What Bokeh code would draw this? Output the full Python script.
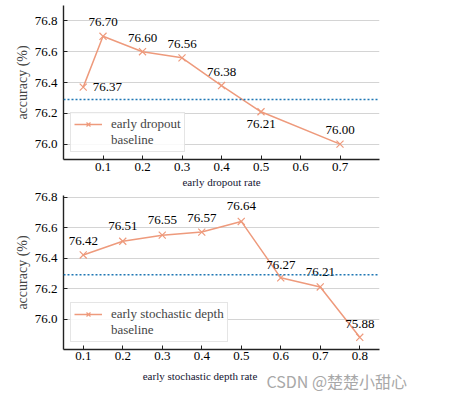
from bokeh.plotting import figure
from bokeh.models import (Range1d, FixedTicker, PrintfTickFormatter, Span,
                          Legend, LegendItem, ColumnDataSource, Title)
from bokeh.layouts import column, row
from bokeh.embed import file_html
from bokeh.resources import INLINE
from bokeh.core.properties import value

# ---------------- data ----------------
dropout_rate = [0.05, 0.1, 0.2, 0.3, 0.4, 0.5, 0.7]
dropout_acc = [76.37, 76.70, 76.60, 76.56, 76.38, 76.21, 76.00]

depth_rate = [0.1, 0.2, 0.3, 0.4, 0.5, 0.6, 0.7, 0.8]
depth_acc = [76.42, 76.51, 76.55, 76.57, 76.64, 76.27, 76.21, 75.88]

baseline_acc = 76.29

top_xticks = [0.1, 0.2, 0.3, 0.4, 0.5, 0.6, 0.7]
bottom_xticks = [0.1, 0.2, 0.3, 0.4, 0.5, 0.6, 0.7, 0.8]
yticks = [76.0, 76.2, 76.4, 76.6, 76.8]

top_series_name = "early dropout"
bottom_series_name = "early stochastic depth"
top_xlabel = "early dropout rate"
bottom_xlabel = "early stochastic depth rate"
ylabel = "accuracy (%)"
watermark = "CSDN @楚楚小甜心"

# label offsets (style, screen px)
top_dx = [24, 0, 0, 0, 0, 0, 0]
top_dy = [0, -14, -14, -14, -14, 12, -14]
bottom_dx = [0, 0, 0, 0, 0, 0, 0, 0]
bottom_dy = [-14, -15, -15, -14, -15, -13, -15, -13]

FONT = "Liberation Serif"
LINE_C = "#ee9a7c"
BASE_C = "#1f77b4"
XLAB_C = "#141432"
W = 450


def make(xs, ys, dx, dy, xticks, xr, yr, series, height, top_border, bottom_border,
         tick_standoff):
    p = figure(width=W, height=height, x_range=Range1d(*xr), y_range=Range1d(*yr),
               output_backend="svg", toolbar_location=None,
               min_border_left=63, min_border_right=W - 379,
               min_border_top=top_border, min_border_bottom=bottom_border)
    p.outline_line_color = None
    p.background_fill_color = "white"
    p.border_fill_color = "white"
    p.xgrid.visible = False
    p.ygrid.grid_line_color = "#d4d4d4"
    p.ygrid.grid_line_width = 1.2

    p.xaxis.ticker = FixedTicker(ticks=xticks)
    p.yaxis.ticker = FixedTicker(ticks=yticks)
    p.xaxis.formatter = PrintfTickFormatter(format="%.1f")
    p.yaxis.formatter = PrintfTickFormatter(format="%.1f")
    for ax in (p.xaxis, p.yaxis):
        ax.major_tick_in = 4
        ax.major_tick_out = 0
        ax.minor_tick_in = 0
        ax.minor_tick_out = 0
        ax.axis_line_width = 1.4
        ax.axis_line_color = "#222222"
        ax.major_tick_line_color = "#222222"
        ax.major_label_text_font = FONT
        ax.major_label_text_font_size = "13px"
        ax.major_label_text_color = "black"
    p.xaxis.major_label_standoff = tick_standoff
    p.yaxis.major_label_standoff = 6
    p.yaxis.axis_label = ylabel
    p.yaxis.axis_label_text_font = FONT
    p.yaxis.axis_label_text_font_size = "14px"
    p.yaxis.axis_label_text_font_style = "normal"
    p.yaxis.axis_label_standoff = 2

    span = Span(location=baseline_acc, dimension="width", line_color=BASE_C,
                line_dash="2 2", line_width=1.5)
    p.add_layout(span)

    src = ColumnDataSource(dict(x=xs, y=ys, t=["%.2f" % v for v in ys], dx=dx, dy=dy))
    lr = p.line("x", "y", source=src, line_color=LINE_C, line_width=1.5)
    sr = p.scatter("x", "y", source=src, marker="x", size=10, line_color=LINE_C,
                   line_width=1.2)
    br = p.line([], [], line_color=BASE_C, line_dash="2 2", line_width=1.5)
    p.text("x", "y", text="t", source=src, x_offset="dx", y_offset="dy",
           text_font=value(FONT), text_font_size="13px", text_color="black",
           text_align="center", text_baseline="middle")

    legend = Legend(items=[LegendItem(label=series, renderers=[lr, sr]),
                           LegendItem(label="baseline", renderers=[br])],
                    location=(7, 7))
    legend.label_text_font = FONT
    legend.label_text_font_size = "13px"
    legend.border_line_color = "#cccccc"
    legend.border_line_width = 1
    legend.background_fill_alpha = 0.85
    legend.glyph_width = 28
    legend.glyph_height = 14
    legend.label_height = 14
    legend.label_standoff = 9
    legend.padding = 3
    legend.spacing = 0
    legend.margin = 0
    p.add_layout(legend)
    return p


def footer(height, texts):
    f = figure(width=W, height=height, x_range=Range1d(0, W), y_range=Range1d(0, height),
               output_backend="svg", toolbar_location=None, x_axis_type=None,
               y_axis_type=None, min_border=0)
    f.outline_line_color = None
    f.grid.visible = False
    f.background_fill_color = "white"
    f.border_fill_color = "white"
    for (tx, ty, t, font, size, color, align) in texts:
        f.text(x=[tx], y=[ty], text=[t], text_font=value(font), text_font_size=size,
               text_color=color, text_align=align, text_baseline="middle")
    return f


p1 = make(dropout_rate, dropout_acc, top_dx, top_dy, top_xticks, (0.0, 0.8),
          (75.9, 76.9), top_series_name, 189, 5, 30, 3)
p1.add_layout(Title(text=top_xlabel, align="center", offset=-21, standoff=0,
                    text_font=FONT, text_font_size="11px", text_font_style="normal",
                    text_color=XLAB_C), "below")
p2 = make(depth_rate, depth_acc, bottom_dx, bottom_dy, bottom_xticks, (0.05, 0.85),
          (75.8, 76.81), bottom_series_name, 179, 6, 19, 2)
f2 = footer(24, [(199.5, 17, bottom_xlabel, FONT, "11px", XLAB_C, "center"),
                 (266, 12, watermark, "Noto Sans CJK SC", "16px", "#a8a8a8", "left")])

layout = column(p1, p2, row(f2), spacing=0)
open("out.html", "w").write(file_html(layout, INLINE))
